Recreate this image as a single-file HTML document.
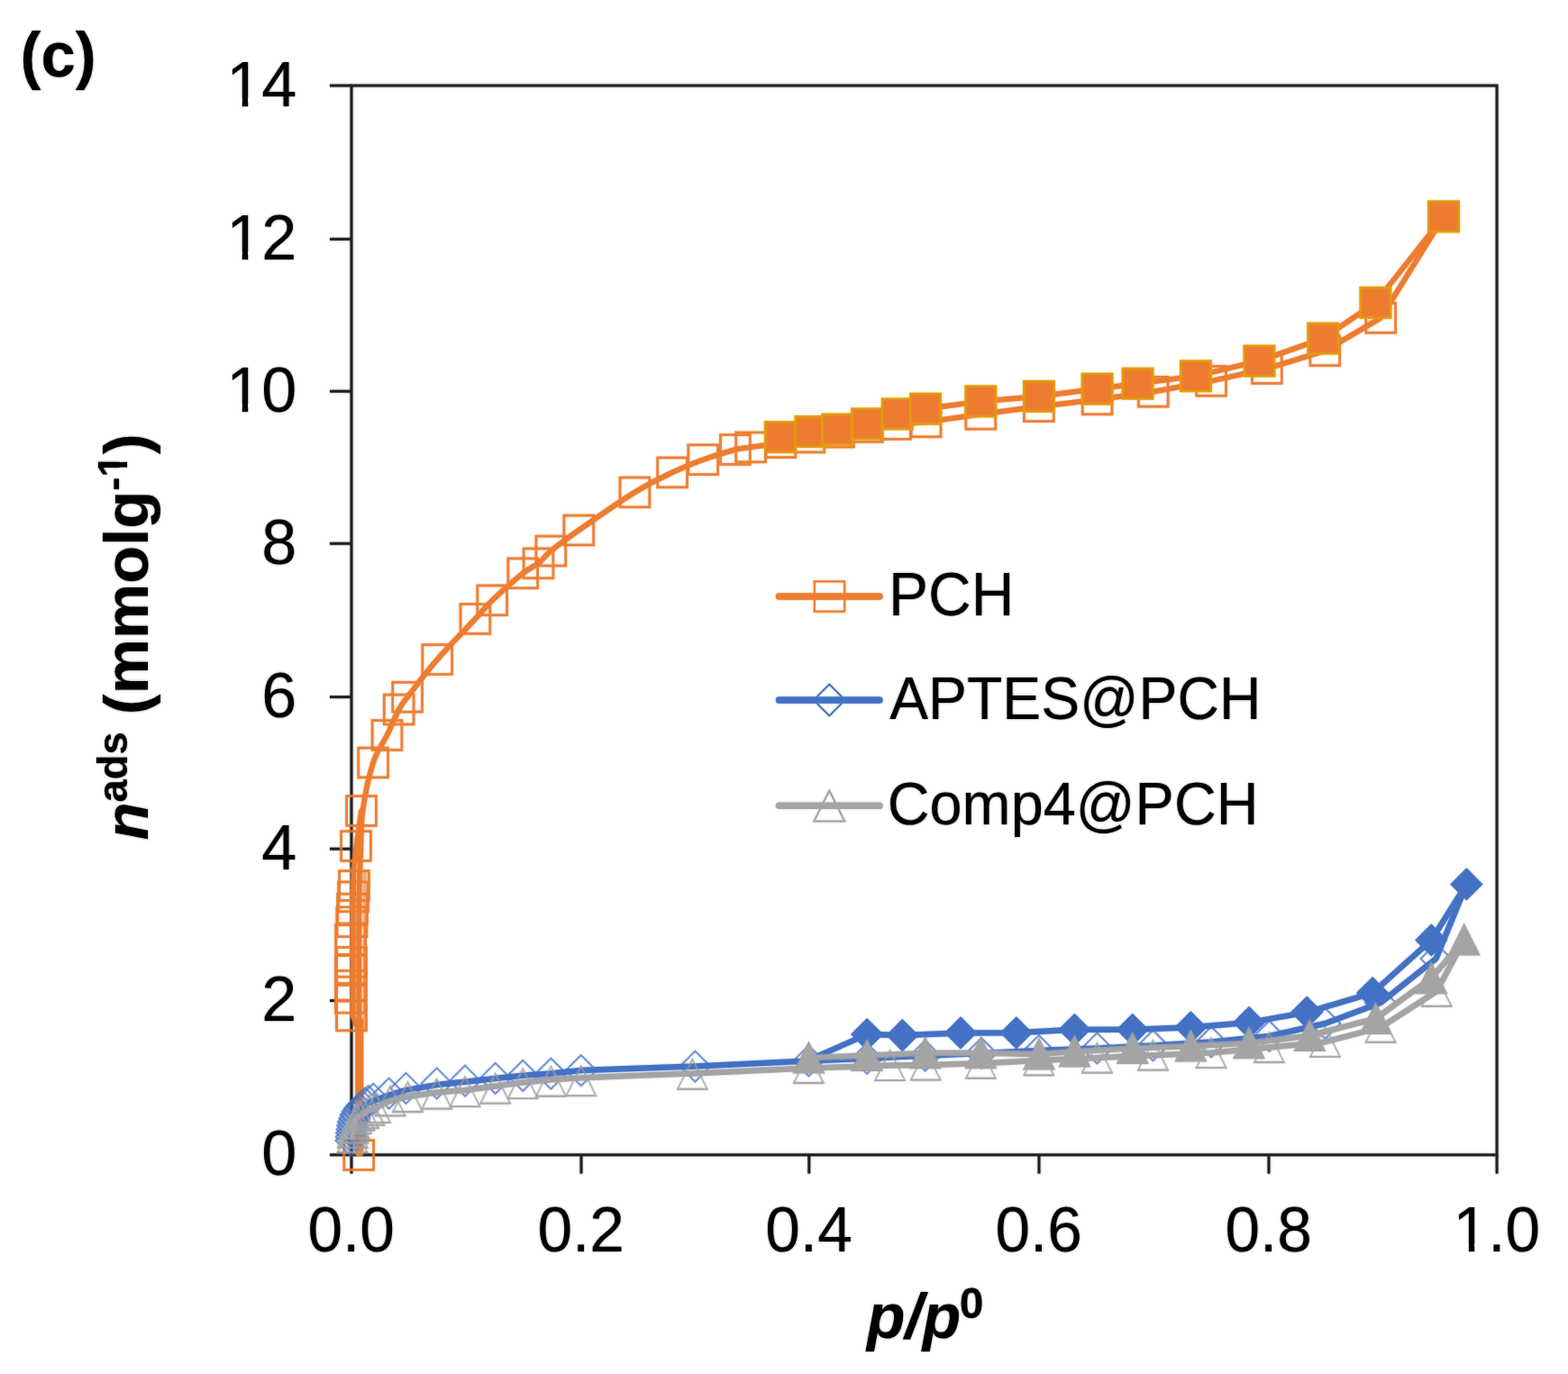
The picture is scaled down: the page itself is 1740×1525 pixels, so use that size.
<!DOCTYPE html>
<html lang="en">
<head>
<meta charset="utf-8">
<title>N2 adsorption isotherms (c)</title>
<style>
html,body{margin:0;padding:0;background:#fff;}
body{width:1740px;height:1525px;overflow:hidden;}
svg{display:block;}
.halo{filter:blur(1px);opacity:0.55;}
</style>
</head>
<body>
<svg width="1740" height="1525" viewBox="0 0 1740 1525" role="img" aria-label="N2 adsorption isotherms of PCH, APTES@PCH and Comp4@PCH">
<rect x="0" y="0" width="1740" height="1525" fill="#fff"/>
<g id="chart">
<g stroke="#222222" stroke-width="3" fill="none" stroke-linecap="butt">
<rect x="390" y="95" width="1271.1" height="1186.8"/>
<line x1="366" y1="1281.8" x2="390" y2="1281.8"/>
<line x1="366" y1="1110.6" x2="390" y2="1110.6"/>
<line x1="366" y1="942.2" x2="390" y2="942.2"/>
<line x1="366" y1="773.6" x2="390" y2="773.6"/>
<line x1="366" y1="603.3" x2="390" y2="603.3"/>
<line x1="366" y1="434.3" x2="390" y2="434.3"/>
<line x1="366" y1="265.4" x2="390" y2="265.4"/>
<line x1="366" y1="95" x2="390" y2="95"/>
<line x1="390" y1="1281.8" x2="390" y2="1302.6"/>
<line x1="645" y1="1281.8" x2="645" y2="1302.6"/>
<line x1="897.8" y1="1281.8" x2="897.8" y2="1302.6"/>
<line x1="1153" y1="1281.8" x2="1153" y2="1302.6"/>
<line x1="1408" y1="1281.8" x2="1408" y2="1302.6"/>
<line x1="1661.1" y1="1281.8" x2="1661.1" y2="1302.6"/>
</g>
<g class="s-pch">
<polyline points="404.9,968 404.9,1142" fill="none" stroke="#ED7D31" stroke-width="4.6" stroke-linejoin="round" stroke-linecap="round" stroke-opacity="0.5"/>
<polyline points="373.3,1008 373.3,1142" fill="none" stroke="#ED7D31" stroke-width="3.0" stroke-linejoin="round" stroke-linecap="round" stroke-opacity="0.35"/>
<polyline points="397.2,1280.2 397.2,1142 391.8,1128 391.8,1000 392.4,965 396,935 401,900" fill="none" stroke="#ED7D31" stroke-width="6.0" stroke-linejoin="round" stroke-linecap="round" />
<path d="M400.3,1280.2 C400.3,1257.2 400.6,1167.7 400.3,1142 C400,1116.3 398.8,1149.7 398.5,1126 C398.2,1102.3 398.2,1029.3 398.5,1000 C398.8,970.7 399.3,966.7 400,950 C400.7,933.3 400.1,917.2 402.5,900 C404.9,882.8 409.6,860.5 414.1,846.5 C418.6,832.5 424.7,825.8 429.5,816 C434.3,806.2 438.9,794.5 442.7,787.5 C446.5,780.5 445,783 452.1,773.7 C459.2,764.5 472.6,746.5 485.2,732 C497.8,717.5 517.2,697.9 527.4,686.9 C537.6,675.9 537.4,674.7 546.2,666.3 C555,657.9 571.7,643.1 580.2,636.3 C588.8,629.5 592.3,629.4 597.5,625.3 C602.7,621.2 603.8,617.6 611.3,611.5 C618.8,605.4 626.8,599.4 642.3,588.5 C657.8,577.6 687.1,557.1 704.4,546.4 C721.7,535.7 733.5,530.4 746.1,524.4 C758.7,518.4 768.6,514.4 780.2,510.2 C791.8,506 807.1,501.3 815.9,499 C824.7,496.7 824.7,497.7 833.1,496.4 C841.5,495.1 855.5,493 866.4,491.2 C877.3,489.4 893,486.4 898.3,485.5" fill="none" stroke="#ED7D31" stroke-width="6.0" stroke-linejoin="round" stroke-linecap="round"/>
<polyline points="898.3,485.5 931,479.7 962.9,474 994,471 1027.6,468.4 1088.3,459.8 1152.9,451.2 1217.6,443.4 1279.7,434.8 1344.1,422.9 1405.9,409.1 1470.3,389.3 1532.2,352.9 1602.1,240.3" fill="none" stroke="#ED7D31" stroke-width="6.0" stroke-linejoin="round" stroke-linecap="round" />
<polyline points="865.9,485.2 899.5,479.1 929.3,476.6 962.1,470.5 995.7,459.5 1027.1,453.8 1088.3,445.5 1152.9,440 1217.6,431.6 1262.5,425.8 1326.9,417.4 1397.4,400.7 1468.2,375.6 1526.4,336 1602.1,240.3" fill="none" stroke="#ED7D31" stroke-width="6.0" stroke-linejoin="round" stroke-linecap="round" />
<rect x="381.8" y="1265.6" width="32.8" height="32.8" fill="none" stroke="#ED7D31" stroke-width="2.8" stroke-opacity="0.95"/>
<rect x="373.6" y="1111" width="32.8" height="32.8" fill="none" stroke="#ED7D31" stroke-width="2.8" stroke-opacity="0.95"/>
<rect x="372.4" y="1091.4" width="32.8" height="32.8" fill="none" stroke="#ED7D31" stroke-width="2.8" stroke-opacity="0.95"/>
<rect x="373.6" y="1077.4" width="32.8" height="32.8" fill="none" stroke="#ED7D31" stroke-width="2.8" stroke-opacity="0.95"/>
<rect x="372.4" y="1060.6" width="32.8" height="32.8" fill="none" stroke="#ED7D31" stroke-width="2.8" stroke-opacity="0.95"/>
<rect x="373.6" y="1051.4" width="32.8" height="32.8" fill="none" stroke="#ED7D31" stroke-width="2.8" stroke-opacity="0.95"/>
<rect x="372.6" y="1026.6" width="32.8" height="32.8" fill="none" stroke="#ED7D31" stroke-width="2.8" stroke-opacity="0.95"/>
<rect x="374.1" y="1006.8" width="32.8" height="32.8" fill="none" stroke="#ED7D31" stroke-width="2.8" stroke-opacity="0.95"/>
<rect x="374.6" y="992.2" width="32.8" height="32.8" fill="none" stroke="#ED7D31" stroke-width="2.8" stroke-opacity="0.95"/>
<rect x="375.6" y="978.9" width="32.8" height="32.8" fill="none" stroke="#ED7D31" stroke-width="2.8" stroke-opacity="0.95"/>
<rect x="376.6" y="966.6" width="32.8" height="32.8" fill="none" stroke="#ED7D31" stroke-width="2.8" stroke-opacity="0.95"/>
<rect x="378.6" y="922.6" width="32.8" height="32.8" fill="none" stroke="#ED7D31" stroke-width="2.8" stroke-opacity="0.95"/>
<rect x="384.6" y="883.6" width="32.8" height="32.8" fill="none" stroke="#ED7D31" stroke-width="2.8" stroke-opacity="0.95"/>
<rect x="397.7" y="830.1" width="32.8" height="32.8" fill="none" stroke="#ED7D31" stroke-width="2.8" stroke-opacity="0.95"/>
<rect x="413.1" y="799.6" width="32.8" height="32.8" fill="none" stroke="#ED7D31" stroke-width="2.8" stroke-opacity="0.95"/>
<rect x="426.3" y="771.1" width="32.8" height="32.8" fill="none" stroke="#ED7D31" stroke-width="2.8" stroke-opacity="0.95"/>
<rect x="435.7" y="757.3" width="32.8" height="32.8" fill="none" stroke="#ED7D31" stroke-width="2.8" stroke-opacity="0.95"/>
<rect x="468.8" y="715.6" width="32.8" height="32.8" fill="none" stroke="#ED7D31" stroke-width="2.8" stroke-opacity="0.95"/>
<rect x="511" y="670.5" width="32.8" height="32.8" fill="none" stroke="#ED7D31" stroke-width="2.8" stroke-opacity="0.95"/>
<rect x="529.8" y="649.9" width="32.8" height="32.8" fill="none" stroke="#ED7D31" stroke-width="2.8" stroke-opacity="0.95"/>
<rect x="563.8" y="619.9" width="32.8" height="32.8" fill="none" stroke="#ED7D31" stroke-width="2.8" stroke-opacity="0.95"/>
<rect x="581.1" y="608.9" width="32.8" height="32.8" fill="none" stroke="#ED7D31" stroke-width="2.8" stroke-opacity="0.95"/>
<rect x="594.9" y="595.1" width="32.8" height="32.8" fill="none" stroke="#ED7D31" stroke-width="2.8" stroke-opacity="0.95"/>
<rect x="625.9" y="572.1" width="32.8" height="32.8" fill="none" stroke="#ED7D31" stroke-width="2.8" stroke-opacity="0.95"/>
<rect x="688" y="530" width="32.8" height="32.8" fill="none" stroke="#ED7D31" stroke-width="2.8" stroke-opacity="0.95"/>
<rect x="729.7" y="508" width="32.8" height="32.8" fill="none" stroke="#ED7D31" stroke-width="2.8" stroke-opacity="0.95"/>
<rect x="763.8" y="493.8" width="32.8" height="32.8" fill="none" stroke="#ED7D31" stroke-width="2.8" stroke-opacity="0.95"/>
<rect x="799.5" y="482.6" width="32.8" height="32.8" fill="none" stroke="#ED7D31" stroke-width="2.8" stroke-opacity="0.95"/>
<rect x="816.7" y="480" width="32.8" height="32.8" fill="none" stroke="#ED7D31" stroke-width="2.8" stroke-opacity="0.95"/>
<rect x="850" y="474.8" width="32.8" height="32.8" fill="none" stroke="#ED7D31" stroke-width="2.8" stroke-opacity="0.95"/>
<rect x="881.9" y="469.1" width="32.8" height="32.8" fill="none" stroke="#ED7D31" stroke-width="2.8" stroke-opacity="0.95"/>
<rect x="914.6" y="463.3" width="32.8" height="32.8" fill="none" stroke="#ED7D31" stroke-width="2.8" stroke-opacity="0.95"/>
<rect x="946.5" y="457.6" width="32.8" height="32.8" fill="none" stroke="#ED7D31" stroke-width="2.8" stroke-opacity="0.95"/>
<rect x="977.6" y="454.6" width="32.8" height="32.8" fill="none" stroke="#ED7D31" stroke-width="2.8" stroke-opacity="0.95"/>
<rect x="1011.2" y="452" width="32.8" height="32.8" fill="none" stroke="#ED7D31" stroke-width="2.8" stroke-opacity="0.95"/>
<rect x="1071.9" y="443.4" width="32.8" height="32.8" fill="none" stroke="#ED7D31" stroke-width="2.8" stroke-opacity="0.95"/>
<rect x="1136.5" y="434.8" width="32.8" height="32.8" fill="none" stroke="#ED7D31" stroke-width="2.8" stroke-opacity="0.95"/>
<rect x="1201.2" y="427" width="32.8" height="32.8" fill="none" stroke="#ED7D31" stroke-width="2.8" stroke-opacity="0.95"/>
<rect x="1263.3" y="418.4" width="32.8" height="32.8" fill="none" stroke="#ED7D31" stroke-width="2.8" stroke-opacity="0.95"/>
<rect x="1327.7" y="406.5" width="32.8" height="32.8" fill="none" stroke="#ED7D31" stroke-width="2.8" stroke-opacity="0.95"/>
<rect x="1389.5" y="392.7" width="32.8" height="32.8" fill="none" stroke="#ED7D31" stroke-width="2.8" stroke-opacity="0.95"/>
<rect x="1453.9" y="372.9" width="32.8" height="32.8" fill="none" stroke="#ED7D31" stroke-width="2.8" stroke-opacity="0.95"/>
<rect x="1515.8" y="336.5" width="32.8" height="32.8" fill="none" stroke="#ED7D31" stroke-width="2.8" stroke-opacity="0.95"/>
<rect x="849" y="468.3" width="33.7" height="33.7" fill="#ED7D31" stroke="#E3A008" stroke-width="2.3"/>
<rect x="882.6" y="462.2" width="33.7" height="33.7" fill="#ED7D31" stroke="#E3A008" stroke-width="2.3"/>
<rect x="912.4" y="459.8" width="33.7" height="33.7" fill="#ED7D31" stroke="#E3A008" stroke-width="2.3"/>
<rect x="945.2" y="453.6" width="33.7" height="33.7" fill="#ED7D31" stroke="#E3A008" stroke-width="2.3"/>
<rect x="978.9" y="442.6" width="33.7" height="33.7" fill="#ED7D31" stroke="#E3A008" stroke-width="2.3"/>
<rect x="1010.2" y="436.9" width="33.7" height="33.7" fill="#ED7D31" stroke="#E3A008" stroke-width="2.3"/>
<rect x="1071.5" y="428.6" width="33.7" height="33.7" fill="#ED7D31" stroke="#E3A008" stroke-width="2.3"/>
<rect x="1136.1" y="423.1" width="33.7" height="33.7" fill="#ED7D31" stroke="#E3A008" stroke-width="2.3"/>
<rect x="1200.8" y="414.8" width="33.7" height="33.7" fill="#ED7D31" stroke="#E3A008" stroke-width="2.3"/>
<rect x="1245.7" y="408.9" width="33.7" height="33.7" fill="#ED7D31" stroke="#E3A008" stroke-width="2.3"/>
<rect x="1310.1" y="400.5" width="33.7" height="33.7" fill="#ED7D31" stroke="#E3A008" stroke-width="2.3"/>
<rect x="1380.6" y="383.8" width="33.7" height="33.7" fill="#ED7D31" stroke="#E3A008" stroke-width="2.3"/>
<rect x="1451.4" y="358.8" width="33.7" height="33.7" fill="#ED7D31" stroke="#E3A008" stroke-width="2.3"/>
<rect x="1509.6" y="319.1" width="33.7" height="33.7" fill="#ED7D31" stroke="#E3A008" stroke-width="2.3"/>
<rect x="1585.2" y="223.5" width="33.7" height="33.7" fill="#ED7D31" stroke="#E3A008" stroke-width="2.3"/>
</g>
<g class="s-aptes">
<polyline points="389.5,1268 389.8,1263.8 390.1,1259.6 390.6,1255.4 391.2,1251.3 392,1247.2 393.3,1243.2 394.7,1239.3 396.7,1235.5 399,1232 401.9,1229.1 405.2,1226.5 408.7,1224.2 414.3,1221.7 431.6,1215.6 450.5,1209.9 484.7,1204.1 516,1200.7 549.7,1197.1 580.2,1193.8 611.4,1191.6 644.8,1188.1 771.4,1183.6 897.4,1177.4 962.1,1174.8 1026.7,1171.7 1089,1169 1152.8,1166 1217.4,1163.4 1279.5,1160.5 1344.1,1156.5 1408.4,1150 1470.5,1136 1532,1113 1593.5,1064 1627.4,981.4" fill="none" stroke="#4472C4" stroke-width="6.5" stroke-linejoin="round" stroke-linecap="round" />
<polyline points="897.4,1176.6 962.1,1148.1 1001.4,1149 1066,1146.4 1127.8,1146.3 1192.4,1142.8 1256.7,1142.8 1321.4,1140.2 1386,1134.9 1450.2,1123.6 1523.1,1102.1 1588.3,1043.4 1627.4,981.4" fill="none" stroke="#4472C4" stroke-width="6.5" stroke-linejoin="round" stroke-linecap="round" />
<polygon points="389.5,1249 406.5,1266 389.5,1283 372.5,1266" fill="none" stroke="#4472C4" stroke-width="1.9" stroke-linejoin="miter" stroke-opacity="0.7"/>
<polygon points="389.8,1244.8 406.8,1261.8 389.8,1278.8 372.8,1261.8" fill="none" stroke="#4472C4" stroke-width="1.9" stroke-linejoin="miter" stroke-opacity="0.7"/>
<polygon points="390.1,1240.6 407.1,1257.6 390.1,1274.6 373.1,1257.6" fill="none" stroke="#4472C4" stroke-width="1.9" stroke-linejoin="miter" stroke-opacity="0.7"/>
<polygon points="390.6,1236.4 407.6,1253.4 390.6,1270.4 373.6,1253.4" fill="none" stroke="#4472C4" stroke-width="1.9" stroke-linejoin="miter" stroke-opacity="0.7"/>
<polygon points="391.2,1232.3 408.2,1249.3 391.2,1266.3 374.2,1249.3" fill="none" stroke="#4472C4" stroke-width="1.9" stroke-linejoin="miter" stroke-opacity="0.7"/>
<polygon points="392,1228.2 409,1245.2 392,1262.2 375,1245.2" fill="none" stroke="#4472C4" stroke-width="1.9" stroke-linejoin="miter" stroke-opacity="0.7"/>
<polygon points="393.3,1224.2 410.3,1241.2 393.3,1258.2 376.3,1241.2" fill="none" stroke="#4472C4" stroke-width="1.9" stroke-linejoin="miter" stroke-opacity="0.7"/>
<polygon points="394.7,1220.3 411.7,1237.3 394.7,1254.3 377.7,1237.3" fill="none" stroke="#4472C4" stroke-width="1.9" stroke-linejoin="miter" stroke-opacity="0.7"/>
<polygon points="396.7,1216.5 413.7,1233.5 396.7,1250.5 379.7,1233.5" fill="none" stroke="#4472C4" stroke-width="1.9" stroke-linejoin="miter" stroke-opacity="0.7"/>
<polygon points="399,1213 416,1230 399,1247 382,1230" fill="none" stroke="#4472C4" stroke-width="1.9" stroke-linejoin="miter" stroke-opacity="0.7"/>
<polygon points="401.9,1210.1 418.9,1227.1 401.9,1244.1 384.9,1227.1" fill="none" stroke="#4472C4" stroke-width="1.9" stroke-linejoin="miter" stroke-opacity="0.7"/>
<polygon points="405.2,1207.5 422.2,1224.5 405.2,1241.5 388.2,1224.5" fill="none" stroke="#4472C4" stroke-width="1.9" stroke-linejoin="miter" stroke-opacity="0.7"/>
<polygon points="408.7,1205.2 425.7,1222.2 408.7,1239.2 391.7,1222.2" fill="none" stroke="#4472C4" stroke-width="1.9" stroke-linejoin="miter" stroke-opacity="0.7"/>
<polygon points="414.3,1202.7 431.3,1219.7 414.3,1236.7 397.3,1219.7" fill="none" stroke="#4472C4" stroke-width="1.9" stroke-linejoin="miter" stroke-opacity="0.7"/>
<polygon points="431.6,1196.6 448.6,1213.6 431.6,1230.6 414.6,1213.6" fill="none" stroke="#4472C4" stroke-width="1.9" stroke-linejoin="miter" stroke-opacity="0.7"/>
<polygon points="450.5,1190.9 467.5,1207.9 450.5,1224.9 433.5,1207.9" fill="none" stroke="#4472C4" stroke-width="1.9" stroke-linejoin="miter" stroke-opacity="0.7"/>
<polygon points="484.7,1185.4 501.7,1202.4 484.7,1219.4 467.7,1202.4" fill="none" stroke="#4472C4" stroke-width="1.9" stroke-linejoin="miter" stroke-opacity="0.7"/>
<polygon points="516,1182.7 533,1199.7 516,1216.7 499,1199.7" fill="none" stroke="#4472C4" stroke-width="1.9" stroke-linejoin="miter" stroke-opacity="0.7"/>
<polygon points="549.7,1179.9 566.7,1196.9 549.7,1213.9 532.7,1196.9" fill="none" stroke="#4472C4" stroke-width="1.9" stroke-linejoin="miter" stroke-opacity="0.7"/>
<polygon points="580.2,1176.8 597.2,1193.8 580.2,1210.8 563.2,1193.8" fill="none" stroke="#4472C4" stroke-width="1.9" stroke-linejoin="miter" stroke-opacity="0.7"/>
<polygon points="611.4,1174.6 628.4,1191.6 611.4,1208.6 594.4,1191.6" fill="none" stroke="#4472C4" stroke-width="1.9" stroke-linejoin="miter" stroke-opacity="0.7"/>
<polygon points="644.8,1171.1 661.8,1188.1 644.8,1205.1 627.8,1188.1" fill="none" stroke="#4472C4" stroke-width="1.9" stroke-linejoin="miter" stroke-opacity="0.7"/>
<polygon points="771.4,1166.6 788.4,1183.6 771.4,1200.6 754.4,1183.6" fill="none" stroke="#4472C4" stroke-width="1.9" stroke-linejoin="miter" stroke-opacity="0.7"/>
<polygon points="897.4,1160.4 914.4,1177.4 897.4,1194.4 880.4,1177.4" fill="none" stroke="#4472C4" stroke-width="1.9" stroke-linejoin="miter" stroke-opacity="0.7"/>
<polygon points="962.1,1157.8 979.1,1174.8 962.1,1191.8 945.1,1174.8" fill="none" stroke="#4472C4" stroke-width="1.9" stroke-linejoin="miter" stroke-opacity="0.7"/>
<polygon points="1026.7,1154.7 1043.7,1171.7 1026.7,1188.7 1009.7,1171.7" fill="none" stroke="#4472C4" stroke-width="1.9" stroke-linejoin="miter" stroke-opacity="0.7"/>
<polygon points="1089,1152 1106,1169 1089,1186 1072,1169" fill="none" stroke="#4472C4" stroke-width="1.9" stroke-linejoin="miter" stroke-opacity="0.7"/>
<polygon points="1152.8,1149 1169.8,1166 1152.8,1183 1135.8,1166" fill="none" stroke="#4472C4" stroke-width="1.9" stroke-linejoin="miter" stroke-opacity="0.7"/>
<polygon points="1217.4,1146.4 1234.4,1163.4 1217.4,1180.4 1200.4,1163.4" fill="none" stroke="#4472C4" stroke-width="1.9" stroke-linejoin="miter" stroke-opacity="0.7"/>
<polygon points="1279.5,1143.5 1296.5,1160.5 1279.5,1177.5 1262.5,1160.5" fill="none" stroke="#4472C4" stroke-width="1.9" stroke-linejoin="miter" stroke-opacity="0.7"/>
<polygon points="1344.1,1139.5 1361.1,1156.5 1344.1,1173.5 1327.1,1156.5" fill="none" stroke="#4472C4" stroke-width="1.9" stroke-linejoin="miter" stroke-opacity="0.7"/>
<polygon points="1408.4,1133 1425.4,1150 1408.4,1167 1391.4,1150" fill="none" stroke="#4472C4" stroke-width="1.9" stroke-linejoin="miter" stroke-opacity="0.7"/>
<polygon points="1470.5,1119 1487.5,1136 1470.5,1153 1453.5,1136" fill="none" stroke="#4472C4" stroke-width="1.9" stroke-linejoin="miter" stroke-opacity="0.7"/>
<polygon points="1532,1096 1549,1113 1532,1130 1515,1113" fill="none" stroke="#4472C4" stroke-width="1.9" stroke-linejoin="miter" stroke-opacity="0.7"/>
<polygon points="1593.5,1047 1610.5,1064 1593.5,1081 1576.5,1064" fill="none" stroke="#4472C4" stroke-width="1.9" stroke-linejoin="miter" stroke-opacity="0.7"/>
<polygon points="962.1,1131.1 979.1,1148.1 962.1,1165.1 945.1,1148.1" fill="#4472C4" stroke="#4472C4" stroke-width="1.6" stroke-linejoin="miter"/>
<polygon points="1001.4,1132 1018.4,1149 1001.4,1166 984.4,1149" fill="#4472C4" stroke="#4472C4" stroke-width="1.6" stroke-linejoin="miter"/>
<polygon points="1066,1129.4 1083,1146.4 1066,1163.4 1049,1146.4" fill="#4472C4" stroke="#4472C4" stroke-width="1.6" stroke-linejoin="miter"/>
<polygon points="1127.8,1129.3 1144.8,1146.3 1127.8,1163.3 1110.8,1146.3" fill="#4472C4" stroke="#4472C4" stroke-width="1.6" stroke-linejoin="miter"/>
<polygon points="1192.4,1125.8 1209.4,1142.8 1192.4,1159.8 1175.4,1142.8" fill="#4472C4" stroke="#4472C4" stroke-width="1.6" stroke-linejoin="miter"/>
<polygon points="1256.7,1125.8 1273.7,1142.8 1256.7,1159.8 1239.7,1142.8" fill="#4472C4" stroke="#4472C4" stroke-width="1.6" stroke-linejoin="miter"/>
<polygon points="1321.4,1123.2 1338.4,1140.2 1321.4,1157.2 1304.4,1140.2" fill="#4472C4" stroke="#4472C4" stroke-width="1.6" stroke-linejoin="miter"/>
<polygon points="1386,1117.9 1403,1134.9 1386,1151.9 1369,1134.9" fill="#4472C4" stroke="#4472C4" stroke-width="1.6" stroke-linejoin="miter"/>
<polygon points="1450.2,1106.6 1467.2,1123.6 1450.2,1140.6 1433.2,1123.6" fill="#4472C4" stroke="#4472C4" stroke-width="1.6" stroke-linejoin="miter"/>
<polygon points="1523.1,1085.1 1540.1,1102.1 1523.1,1119.1 1506.1,1102.1" fill="#4472C4" stroke="#4472C4" stroke-width="1.6" stroke-linejoin="miter"/>
<polygon points="1588.3,1026.4 1605.3,1043.4 1588.3,1060.4 1571.3,1043.4" fill="#4472C4" stroke="#4472C4" stroke-width="1.6" stroke-linejoin="miter"/>
<polygon points="1627.4,964.4 1644.4,981.4 1627.4,998.4 1610.4,981.4" fill="#4472C4" stroke="#4472C4" stroke-width="1.6" stroke-linejoin="miter"/>
</g>
<g class="s-comp4">
<polyline points="391,1262.5 391.3,1257.2 392,1252 393.3,1247 395.5,1241.5 399,1238 403.5,1235.5 410,1232.3 416.6,1229.4 433.2,1221.8 452.5,1217 484.7,1212.5 516,1210 549.7,1205.5 580.2,1201.4 611.4,1198.2 644.8,1196.2 768.4,1191.4 897.4,1185.5 987.6,1182.6 1027.2,1182.1 1088.4,1180.3 1152.8,1176.9 1217.4,1174.1 1279.5,1171.2 1344.1,1168.6 1408.4,1162.5 1470.5,1156.4 1532.1,1140.3 1594.3,1100.3 1624.8,1043.1" fill="none" stroke="#A5A5A5" stroke-width="6.5" stroke-linejoin="round" stroke-linecap="round" />
<polyline points="897.4,1174 962.1,1171.4 1026.7,1168.8 1088.4,1168.8 1153,1170 1192.4,1166.9 1256.7,1163.4 1321.4,1160.9 1386,1157.8 1453.3,1149.5 1526.6,1130.5 1588.3,1085.7 1624.8,1043.1" fill="none" stroke="#A5A5A5" stroke-width="6.5" stroke-linejoin="round" stroke-linecap="round" />
<polygon points="391,1246 407.5,1279 374.5,1279" fill="none" stroke="#A5A5A5" stroke-width="1.8" stroke-linejoin="miter" stroke-opacity="0.75"/>
<line x1="374" y1="1279" x2="408" y2="1279" stroke="#A5A5A5" stroke-width="2.4" stroke-opacity="0.6"/>
<polygon points="391.3,1240.7 407.8,1273.7 374.8,1273.7" fill="none" stroke="#A5A5A5" stroke-width="1.8" stroke-linejoin="miter" stroke-opacity="0.75"/>
<line x1="374.3" y1="1273.7" x2="408.3" y2="1273.7" stroke="#A5A5A5" stroke-width="2.4" stroke-opacity="0.6"/>
<polygon points="392,1235.5 408.5,1268.5 375.5,1268.5" fill="none" stroke="#A5A5A5" stroke-width="1.8" stroke-linejoin="miter" stroke-opacity="0.75"/>
<line x1="375" y1="1268.5" x2="409" y2="1268.5" stroke="#A5A5A5" stroke-width="2.4" stroke-opacity="0.6"/>
<polygon points="393.3,1230.5 409.8,1263.5 376.8,1263.5" fill="none" stroke="#A5A5A5" stroke-width="1.8" stroke-linejoin="miter" stroke-opacity="0.75"/>
<line x1="376.3" y1="1263.5" x2="410.3" y2="1263.5" stroke="#A5A5A5" stroke-width="2.4" stroke-opacity="0.6"/>
<polygon points="395.5,1225 412,1258 379,1258" fill="none" stroke="#A5A5A5" stroke-width="1.8" stroke-linejoin="miter" stroke-opacity="0.75"/>
<line x1="378.5" y1="1258" x2="412.5" y2="1258" stroke="#A5A5A5" stroke-width="2.4" stroke-opacity="0.6"/>
<polygon points="399,1221.5 415.5,1254.5 382.5,1254.5" fill="none" stroke="#A5A5A5" stroke-width="1.8" stroke-linejoin="miter" stroke-opacity="0.75"/>
<line x1="382" y1="1254.5" x2="416" y2="1254.5" stroke="#A5A5A5" stroke-width="2.4" stroke-opacity="0.6"/>
<polygon points="403.5,1219 420,1252 387,1252" fill="none" stroke="#A5A5A5" stroke-width="1.8" stroke-linejoin="miter" stroke-opacity="0.75"/>
<line x1="386.5" y1="1252" x2="420.5" y2="1252" stroke="#A5A5A5" stroke-width="2.4" stroke-opacity="0.6"/>
<polygon points="410,1215.8 426.5,1248.8 393.5,1248.8" fill="none" stroke="#A5A5A5" stroke-width="1.8" stroke-linejoin="miter" stroke-opacity="0.75"/>
<line x1="393" y1="1248.8" x2="427" y2="1248.8" stroke="#A5A5A5" stroke-width="2.4" stroke-opacity="0.6"/>
<polygon points="416.6,1212.9 433.1,1245.9 400.1,1245.9" fill="none" stroke="#A5A5A5" stroke-width="1.8" stroke-linejoin="miter" stroke-opacity="0.75"/>
<line x1="399.6" y1="1245.9" x2="433.6" y2="1245.9" stroke="#A5A5A5" stroke-width="2.4" stroke-opacity="0.6"/>
<polygon points="433.2,1205.3 449.7,1238.3 416.7,1238.3" fill="none" stroke="#A5A5A5" stroke-width="1.8" stroke-linejoin="miter" stroke-opacity="0.75"/>
<line x1="416.2" y1="1238.3" x2="450.2" y2="1238.3" stroke="#A5A5A5" stroke-width="2.4" stroke-opacity="0.6"/>
<polygon points="452.5,1201 469,1234 436,1234" fill="none" stroke="#A5A5A5" stroke-width="1.8" stroke-linejoin="miter" stroke-opacity="0.75"/>
<line x1="435.5" y1="1234" x2="469.5" y2="1234" stroke="#A5A5A5" stroke-width="2.4" stroke-opacity="0.6"/>
<polygon points="484.7,1197.6 501.2,1230.6 468.2,1230.6" fill="none" stroke="#A5A5A5" stroke-width="1.8" stroke-linejoin="miter" stroke-opacity="0.75"/>
<line x1="467.7" y1="1230.6" x2="501.7" y2="1230.6" stroke="#A5A5A5" stroke-width="2.4" stroke-opacity="0.6"/>
<polygon points="516,1195.1 532.5,1228.1 499.5,1228.1" fill="none" stroke="#A5A5A5" stroke-width="1.8" stroke-linejoin="miter" stroke-opacity="0.75"/>
<line x1="499" y1="1228.1" x2="533" y2="1228.1" stroke="#A5A5A5" stroke-width="2.4" stroke-opacity="0.6"/>
<polygon points="549.7,1191.6 566.2,1224.6 533.2,1224.6" fill="none" stroke="#A5A5A5" stroke-width="1.8" stroke-linejoin="miter" stroke-opacity="0.75"/>
<line x1="532.7" y1="1224.6" x2="566.7" y2="1224.6" stroke="#A5A5A5" stroke-width="2.4" stroke-opacity="0.6"/>
<polygon points="580.2,1186.1 596.7,1219.1 563.7,1219.1" fill="none" stroke="#A5A5A5" stroke-width="1.8" stroke-linejoin="miter" stroke-opacity="0.75"/>
<line x1="563.2" y1="1219.1" x2="597.2" y2="1219.1" stroke="#A5A5A5" stroke-width="2.4" stroke-opacity="0.6"/>
<polygon points="611.4,1183.7 627.9,1216.7 594.9,1216.7" fill="none" stroke="#A5A5A5" stroke-width="1.8" stroke-linejoin="miter" stroke-opacity="0.75"/>
<line x1="594.4" y1="1216.7" x2="628.4" y2="1216.7" stroke="#A5A5A5" stroke-width="2.4" stroke-opacity="0.6"/>
<polygon points="644.8,1183.1 661.3,1216.1 628.3,1216.1" fill="none" stroke="#A5A5A5" stroke-width="1.8" stroke-linejoin="miter" stroke-opacity="0.75"/>
<line x1="627.8" y1="1216.1" x2="661.8" y2="1216.1" stroke="#A5A5A5" stroke-width="2.4" stroke-opacity="0.6"/>
<polygon points="768.4,1175.8 784.9,1208.8 751.9,1208.8" fill="none" stroke="#A5A5A5" stroke-width="1.8" stroke-linejoin="miter" stroke-opacity="0.75"/>
<line x1="751.4" y1="1208.8" x2="785.4" y2="1208.8" stroke="#A5A5A5" stroke-width="2.4" stroke-opacity="0.6"/>
<polygon points="897.4,1169 913.9,1202 880.9,1202" fill="none" stroke="#A5A5A5" stroke-width="1.8" stroke-linejoin="miter" stroke-opacity="0.75"/>
<line x1="880.4" y1="1202" x2="914.4" y2="1202" stroke="#A5A5A5" stroke-width="2.4" stroke-opacity="0.6"/>
<polygon points="987.6,1166.1 1004.1,1199.1 971.1,1199.1" fill="none" stroke="#A5A5A5" stroke-width="1.8" stroke-linejoin="miter" stroke-opacity="0.75"/>
<line x1="970.6" y1="1199.1" x2="1004.6" y2="1199.1" stroke="#A5A5A5" stroke-width="2.4" stroke-opacity="0.6"/>
<polygon points="1027.2,1165.6 1043.7,1198.6 1010.7,1198.6" fill="none" stroke="#A5A5A5" stroke-width="1.8" stroke-linejoin="miter" stroke-opacity="0.75"/>
<line x1="1010.2" y1="1198.6" x2="1044.2" y2="1198.6" stroke="#A5A5A5" stroke-width="2.4" stroke-opacity="0.6"/>
<polygon points="1088.4,1163.8 1104.9,1196.8 1071.9,1196.8" fill="none" stroke="#A5A5A5" stroke-width="1.8" stroke-linejoin="miter" stroke-opacity="0.75"/>
<line x1="1071.4" y1="1196.8" x2="1105.4" y2="1196.8" stroke="#A5A5A5" stroke-width="2.4" stroke-opacity="0.6"/>
<polygon points="1152.8,1160.4 1169.3,1193.4 1136.3,1193.4" fill="none" stroke="#A5A5A5" stroke-width="1.8" stroke-linejoin="miter" stroke-opacity="0.75"/>
<line x1="1135.8" y1="1193.4" x2="1169.8" y2="1193.4" stroke="#A5A5A5" stroke-width="2.4" stroke-opacity="0.6"/>
<polygon points="1217.4,1157.6 1233.9,1190.6 1200.9,1190.6" fill="none" stroke="#A5A5A5" stroke-width="1.8" stroke-linejoin="miter" stroke-opacity="0.75"/>
<line x1="1200.4" y1="1190.6" x2="1234.4" y2="1190.6" stroke="#A5A5A5" stroke-width="2.4" stroke-opacity="0.6"/>
<polygon points="1279.5,1154.7 1296,1187.7 1263,1187.7" fill="none" stroke="#A5A5A5" stroke-width="1.8" stroke-linejoin="miter" stroke-opacity="0.75"/>
<line x1="1262.5" y1="1187.7" x2="1296.5" y2="1187.7" stroke="#A5A5A5" stroke-width="2.4" stroke-opacity="0.6"/>
<polygon points="1344.1,1152.1 1360.6,1185.1 1327.6,1185.1" fill="none" stroke="#A5A5A5" stroke-width="1.8" stroke-linejoin="miter" stroke-opacity="0.75"/>
<line x1="1327.1" y1="1185.1" x2="1361.1" y2="1185.1" stroke="#A5A5A5" stroke-width="2.4" stroke-opacity="0.6"/>
<polygon points="1408.4,1146 1424.9,1179 1391.9,1179" fill="none" stroke="#A5A5A5" stroke-width="1.8" stroke-linejoin="miter" stroke-opacity="0.75"/>
<line x1="1391.4" y1="1179" x2="1425.4" y2="1179" stroke="#A5A5A5" stroke-width="2.4" stroke-opacity="0.6"/>
<polygon points="1470.5,1139.9 1487,1172.9 1454,1172.9" fill="none" stroke="#A5A5A5" stroke-width="1.8" stroke-linejoin="miter" stroke-opacity="0.75"/>
<line x1="1453.5" y1="1172.9" x2="1487.5" y2="1172.9" stroke="#A5A5A5" stroke-width="2.4" stroke-opacity="0.6"/>
<polygon points="1532.1,1123.8 1548.6,1156.8 1515.6,1156.8" fill="none" stroke="#A5A5A5" stroke-width="1.8" stroke-linejoin="miter" stroke-opacity="0.75"/>
<line x1="1515.1" y1="1156.8" x2="1549.1" y2="1156.8" stroke="#A5A5A5" stroke-width="2.4" stroke-opacity="0.6"/>
<polygon points="1594.3,1083.8 1610.8,1116.8 1577.8,1116.8" fill="none" stroke="#A5A5A5" stroke-width="1.8" stroke-linejoin="miter" stroke-opacity="0.75"/>
<line x1="1577.3" y1="1116.8" x2="1611.3" y2="1116.8" stroke="#A5A5A5" stroke-width="2.4" stroke-opacity="0.6"/>
<polygon points="897.4,1157.5 913.9,1190.5 880.9,1190.5" fill="#A5A5A5" stroke="#A5A5A5" stroke-width="2.0" stroke-linejoin="miter"/>
<polygon points="962.1,1154.9 978.6,1187.9 945.6,1187.9" fill="#A5A5A5" stroke="#A5A5A5" stroke-width="2.0" stroke-linejoin="miter"/>
<polygon points="1026.7,1152.3 1043.2,1185.3 1010.2,1185.3" fill="#A5A5A5" stroke="#A5A5A5" stroke-width="2.0" stroke-linejoin="miter"/>
<polygon points="1088.4,1152.3 1104.9,1185.3 1071.9,1185.3" fill="#A5A5A5" stroke="#A5A5A5" stroke-width="2.0" stroke-linejoin="miter"/>
<polygon points="1153,1153.5 1169.5,1186.5 1136.5,1186.5" fill="#A5A5A5" stroke="#A5A5A5" stroke-width="2.0" stroke-linejoin="miter"/>
<polygon points="1192.4,1150.4 1208.9,1183.4 1175.9,1183.4" fill="#A5A5A5" stroke="#A5A5A5" stroke-width="2.0" stroke-linejoin="miter"/>
<polygon points="1256.7,1146.9 1273.2,1179.9 1240.2,1179.9" fill="#A5A5A5" stroke="#A5A5A5" stroke-width="2.0" stroke-linejoin="miter"/>
<polygon points="1321.4,1144.4 1337.9,1177.4 1304.9,1177.4" fill="#A5A5A5" stroke="#A5A5A5" stroke-width="2.0" stroke-linejoin="miter"/>
<polygon points="1386,1141.3 1402.5,1174.3 1369.5,1174.3" fill="#A5A5A5" stroke="#A5A5A5" stroke-width="2.0" stroke-linejoin="miter"/>
<polygon points="1453.3,1133 1469.8,1166 1436.8,1166" fill="#A5A5A5" stroke="#A5A5A5" stroke-width="2.0" stroke-linejoin="miter"/>
<polygon points="1526.6,1114 1543.1,1147 1510.1,1147" fill="#A5A5A5" stroke="#A5A5A5" stroke-width="2.0" stroke-linejoin="miter"/>
<polygon points="1588.3,1069.2 1604.8,1102.2 1571.8,1102.2" fill="#A5A5A5" stroke="#A5A5A5" stroke-width="2.0" stroke-linejoin="miter"/>
<polygon points="1624.8,1026.6 1641.3,1059.6 1608.3,1059.6" fill="#A5A5A5" stroke="#A5A5A5" stroke-width="2.0" stroke-linejoin="miter"/>
</g>
<g class="legend">
<polyline points="864.5,662 976,662" fill="none" stroke="#ED7D31" stroke-width="7.5" stroke-linejoin="round" stroke-linecap="round" />
<rect x="903.8" y="645.3" width="33.4" height="33.4" fill="none" stroke="#ED7D31" stroke-width="2.2"/>
<polyline points="864.5,777 976,777" fill="none" stroke="#4472C4" stroke-width="7.5" stroke-linejoin="round" stroke-linecap="round" />
<polygon points="920.3,759.5 937.8,777 920.3,794.5 902.8,777" fill="none" stroke="#4472C4" stroke-width="1.8" stroke-linejoin="miter"/>
<polyline points="864.5,894.3 976,894.3" fill="none" stroke="#A5A5A5" stroke-width="7.5" stroke-linejoin="round" stroke-linecap="round" />
<polygon points="920.3,877.5 937.3,911.5 903.3,911.5" fill="none" stroke="#A5A5A5" stroke-width="2.0" stroke-linejoin="miter"/>
</g>
<g font-family="'Liberation Sans', Arial, sans-serif" fill="#000">
<text transform="translate(22.5,84.8) scale(0.985,1)" font-size="70" text-anchor="start" font-weight="bold">(c)</text>
<text transform="translate(329.2,1304.4) scale(0.988,1)" font-size="71" text-anchor="end" >0</text>
<text transform="translate(329.2,1133.2) scale(0.988,1)" font-size="71" text-anchor="end" >2</text>
<text transform="translate(329.2,964.8) scale(0.988,1)" font-size="71" text-anchor="end" >4</text>
<text transform="translate(329.2,796.2) scale(0.988,1)" font-size="71" text-anchor="end" >6</text>
<text transform="translate(329.2,625.9) scale(0.988,1)" font-size="71" text-anchor="end" >8</text>
<text transform="translate(329.2,456.9) scale(0.988,1)" font-size="71" text-anchor="end" >10</text>
<text transform="translate(329.2,288) scale(0.988,1)" font-size="71" text-anchor="end" >12</text>
<text transform="translate(329.2,117.6) scale(0.988,1)" font-size="71" text-anchor="end" >14</text>
<text transform="translate(389.7,1388.7) scale(0.978,1)" font-size="71" text-anchor="middle" >0.0</text>
<text transform="translate(644.7,1388.7) scale(0.978,1)" font-size="71" text-anchor="middle" >0.2</text>
<text transform="translate(897.5,1388.7) scale(0.978,1)" font-size="71" text-anchor="middle" >0.4</text>
<text transform="translate(1152.7,1388.7) scale(0.978,1)" font-size="71" text-anchor="middle" >0.6</text>
<text transform="translate(1407.7,1388.7) scale(0.978,1)" font-size="71" text-anchor="middle" >0.8</text>
<text transform="translate(1660.8,1388.7) scale(0.978,1)" font-size="71" text-anchor="middle" >1.0</text>
<text transform="translate(985.9,683.4) scale(0.972,1)" font-size="68" text-anchor="start" >PCH</text>
<text transform="translate(987.2,797.5) scale(0.9535,1)" font-size="67.5" text-anchor="start" >APTES@PCH</text>
<text transform="translate(984.7,915.4) scale(0.961,1)" font-size="67.5" text-anchor="start" >Comp4@PCH</text>
<text transform="translate(962,1485)" font-size="69.5" font-weight="bold" font-style="italic">p/p<tspan font-size="48" dy="-22.3" dx="-1.5" font-style="normal">0</tspan></text>
<text transform="translate(164,932.5) rotate(-90) scale(0.9975,1)" font-size="69" font-weight="bold"><tspan font-style="italic">n</tspan><tspan font-size="45.5" dy="-23">ads</tspan><tspan dy="23"> (mmolg</tspan><tspan font-size="45.5" dy="-23">-1</tspan><tspan dy="23">)</tspan></text>
</g>
</g>
<use href="#chart" class="halo"/>
<g fill="#fff">
<rect x="250" y="448.5" width="18.7" height="12"/>
<rect x="275.3" y="448.5" width="16.2" height="12"/>
<rect x="250" y="279.6" width="18.7" height="12"/>
<rect x="275.3" y="279.6" width="16.2" height="12"/>
<rect x="250" y="109.2" width="18.7" height="12"/>
<rect x="275.3" y="109.2" width="16.2" height="12"/>
<rect x="1612" y="1380.3" width="17.8" height="12"/>
<rect x="1636.3" y="1380.3" width="16" height="12"/>
<rect x="132.6" y="501.5" width="11" height="11.2"/>
<rect x="132.6" y="518.7" width="11" height="11.4"/>
</g>
</svg>
</body>
</html>
